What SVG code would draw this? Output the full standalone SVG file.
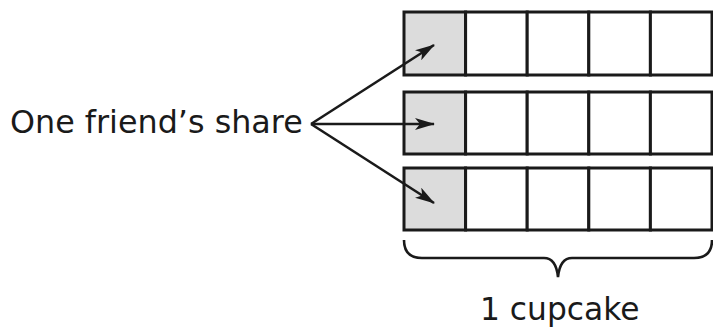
<svg xmlns="http://www.w3.org/2000/svg" width="713" height="328" viewBox="0 0 713 328">
<defs>
<style>
.cell{fill:#fff;stroke:#1a1a1a;stroke-width:3}
.share{fill:#dcdcdc;stroke:#1a1a1a;stroke-width:3}
.conn{stroke:#1a1a1a;stroke-width:2.6;fill:none}
.lbl{font-family:"DejaVu Sans",Verdana,sans-serif;fill:#1a1a1a}
</style>
<marker id="ah" viewBox="0 0 20 12" refX="19" refY="6" markerWidth="20" markerHeight="12" markerUnits="userSpaceOnUse" orient="auto">
<path d="M0,0 L20,6 L0,12 L5,6 Z" fill="#1a1a1a"/>
</marker>
</defs>
<g id="row1">
<rect class="share" x="404" y="12" width="61.6" height="63"/>
<rect class="cell" x="465.6" y="12" width="61.6" height="63"/>
<rect class="cell" x="527.2" y="12" width="61.6" height="63"/>
<rect class="cell" x="588.8" y="12" width="61.6" height="63"/>
<rect class="cell" x="650.4" y="12" width="61.6" height="63"/>
</g>
<g id="row2">
<rect class="share" x="404" y="92" width="61.6" height="62"/>
<rect class="cell" x="465.6" y="92" width="61.6" height="62"/>
<rect class="cell" x="527.2" y="92" width="61.6" height="62"/>
<rect class="cell" x="588.8" y="92" width="61.6" height="62"/>
<rect class="cell" x="650.4" y="92" width="61.6" height="62"/>
</g>
<g id="row3">
<rect class="share" x="404" y="168" width="61.6" height="62"/>
<rect class="cell" x="465.6" y="168" width="61.6" height="62"/>
<rect class="cell" x="527.2" y="168" width="61.6" height="62"/>
<rect class="cell" x="588.8" y="168" width="61.6" height="62"/>
<rect class="cell" x="650.4" y="168" width="61.6" height="62"/>
</g>
<g id="label-share">
<text class="lbl" x="10" y="133" font-size="31.8">One friend’s share</text>
</g>
<g id="label-cupcake">
<text class="lbl" x="480" y="320" font-size="31.3">1 cupcake</text>
</g>
<g id="brace">
<path class="conn" d="M404,240 Q404,258 422,258 L544,258 Q556,258 558,277 Q560,258 572,258 L694,258 Q712,258 712,240" stroke-width="2.8"/>
</g>
<g id="connectors">
<line class="conn" x1="311" y1="124" x2="434" y2="45" marker-end="url(#ah)"/>
<line class="conn" x1="311" y1="124" x2="434" y2="124" marker-end="url(#ah)"/>
<line class="conn" x1="311" y1="124" x2="434" y2="203" marker-end="url(#ah)"/>
</g>
</svg>
